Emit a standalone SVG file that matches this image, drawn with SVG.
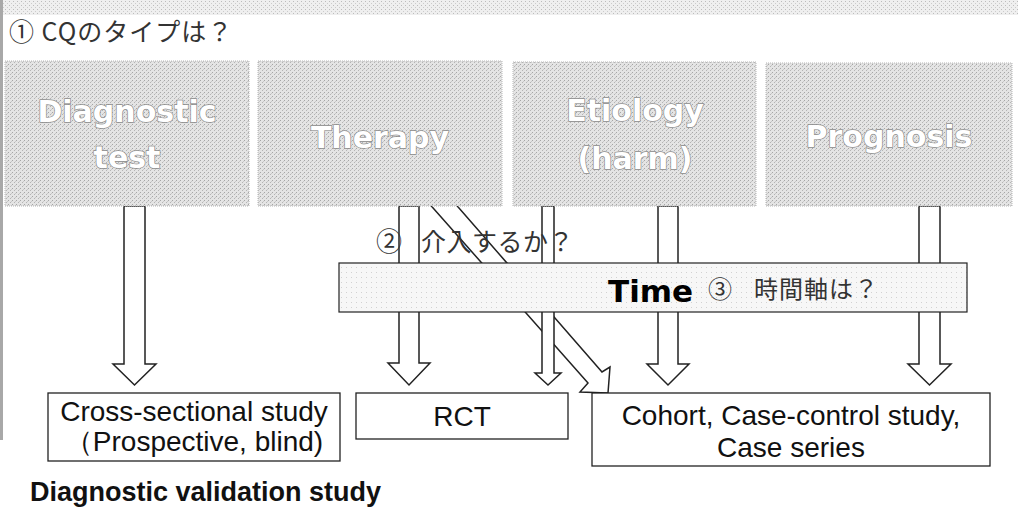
<svg xmlns="http://www.w3.org/2000/svg" width="1018" height="522" viewBox="0 0 1018 522">
  <defs>
    <pattern id="noise" width="4" height="4" patternUnits="userSpaceOnUse">
      <rect width="4" height="4" fill="#e4e4e4"/>
      <rect x="0" y="0" width="1" height="1" fill="#a6a6a6"/>
      <rect x="2" y="2" width="1" height="1" fill="#b4b4b4"/>
      <rect x="3" y="1" width="1" height="1" fill="#c8c8c8"/>
    </pattern>
    <pattern id="light" width="5" height="5" patternUnits="userSpaceOnUse">
      <rect width="5" height="5" fill="#f7f7f7"/>
      <rect x="1" y="2" width="1" height="1" fill="#d2d2d2"/>
    </pattern>
    <pattern id="strip" width="4" height="4" patternUnits="userSpaceOnUse">
      <rect width="4" height="4" fill="#efefef"/>
      <rect x="1" y="1" width="1" height="1" fill="#bcbcbc"/>
      <rect x="3" y="3" width="1" height="1" fill="#cccccc"/>
    </pattern>
  </defs>
  <style>
    .cat { fill: url(#noise); stroke: #b5b5b5; stroke-width: 1; stroke-dasharray: 1 1; }
    .catText { font-family: "DejaVu Sans", Verdana, sans-serif; font-weight: bold; font-size: 30px; fill: #ffffff; stroke: #8c8c8c; stroke-width: 1.4; paint-order: stroke; text-anchor: middle; }
    .arrow { fill: #ffffff; stroke: #222222; stroke-width: 1.5; stroke-linejoin: miter; }
    .jp { font-family: "Noto Sans CJK JP", sans-serif; fill: #333333; }
    .box { fill: #ffffff; stroke: #222222; stroke-width: 1.3; }
    .boxText { font-family: "Liberation Sans", Arial, sans-serif; font-size: 28px; fill: #111111; text-anchor: middle; }
  </style>

  <rect x="0" y="0" width="1018" height="522" fill="#ffffff"/>
  <rect x="0" y="0" width="1018" height="15" fill="url(#strip)"/>
  <rect x="0" y="0" width="3" height="440" fill="#a8a8a8"/>

  <text class="jp" x="9" y="41" font-size="25" letter-spacing="1">① CQのタイプは？</text>

  <g id="connectors">
    <path id="arrow-diagonal" class="arrow" d="M426,200 L588,383 L580,392 L608,393 L610,367 L602,372 L452,200 Z"/>
    <path id="arrow-diagnostic" class="arrow" d="M124,206 V364 H113 L134.5,385 L156,364 H145 V206 Z"/>
    <path id="arrow-therapy" class="arrow" d="M399,206 V363 H388 L409,385 L430,363 H419 V206 Z"/>
    <path id="arrow-narrow" class="arrow" d="M542,206 V373 H535 L548,385 L561,373 H554 V206 Z"/>
    <path id="arrow-etiology" class="arrow" d="M658,206 V364 H647 L668,385 L689,364 H678 V206 Z"/>
    <path id="arrow-prognosis" class="arrow" d="M919,206 V364 H908 L929.5,385 L951,364 H940 V206 Z"/>
  </g>

  <text class="jp" x="376" y="251" font-size="26">②</text>
  <text class="jp" x="421" y="251" font-size="25" letter-spacing="0.5">介入するか？</text>

  <g id="time-band">
    <rect x="339" y="263" width="628" height="49" fill="url(#light)" stroke="#222222" stroke-width="1.2"/>
    <text x="608" y="302" font-family="DejaVu Sans, Verdana, sans-serif" font-weight="bold" font-size="31" fill="#000000">Time</text>
    <text class="jp" x="708" y="298" font-size="24">③</text>
    <text class="jp" x="754" y="298" font-size="24" letter-spacing="1">時間軸は？</text>
  </g>

  <g id="diagnostic-test">
    <rect class="cat" x="5" y="61" width="244" height="145"/>
    <text class="catText" x="127" y="122">Diagnostic</text>
    <text class="catText" x="127" y="168">test</text>
  </g>
  <g id="therapy">
    <rect class="cat" x="258" y="61" width="244" height="145"/>
    <text class="catText" x="380" y="148">Therapy</text>
  </g>
  <g id="etiology">
    <rect class="cat" x="513" y="62" width="243" height="144"/>
    <text class="catText" x="635" y="121">Etiology</text>
    <text class="catText" x="635" y="169">(harm)</text>
  </g>
  <g id="prognosis">
    <rect class="cat" x="766" y="63" width="246" height="143"/>
    <text class="catText" x="889" y="147">Prognosis</text>
  </g>

  <g id="cross-sectional">
    <rect class="box" x="48" y="393" width="292" height="68"/>
    <text class="boxText" x="194" y="421">Cross-sectional study</text>
    <text class="boxText" x="194" y="451">（Prospective, blind)</text>
  </g>
  <g id="rct">
    <rect class="box" x="356" y="393" width="212" height="46"/>
    <text class="boxText" x="462" y="426">RCT</text>
  </g>
  <g id="cohort">
    <rect class="box" x="592" y="393" width="398" height="73"/>
    <text class="boxText" x="791" y="425">Cohort, Case-control study,</text>
    <text class="boxText" x="791" y="457">Case series</text>
  </g>

  <text x="30" y="501" font-family="Liberation Sans, Arial, sans-serif" font-weight="bold" font-size="27" fill="#111111">Diagnostic validation study</text>
</svg>
